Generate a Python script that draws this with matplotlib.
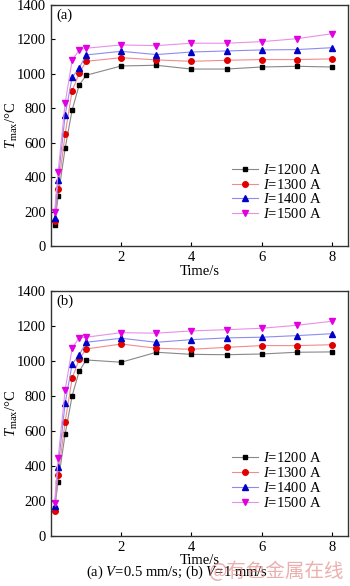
import matplotlib
matplotlib.use("Agg")
import matplotlib.pyplot as plt

plt.rcParams["font.family"] = ["Liberation Serif", "DejaVu Serif"]
plt.rcParams["mathtext.fontset"] = "custom"
plt.rcParams["mathtext.rm"] = "Liberation Serif"
plt.rcParams["mathtext.it"] = "Liberation Serif:italic"
plt.rcParams["font.size"] = 10.5

# time points (s)
time = [0.1, 0.2, 0.4, 0.6, 0.8, 1.0, 2, 3, 4, 5, 6, 7, 8]

# (a) V = 0.5 mm/s
a_1200 = [124, 289, 568, 790, 935, 992, 1046, 1050, 1028, 1028, 1040, 1044, 1040]
a_1300 = [145, 333, 651, 902, 1003, 1073, 1094, 1081, 1073, 1079, 1083, 1083, 1087]
a_1400 = [165, 383, 761, 980, 1034, 1110, 1131, 1112, 1127, 1133, 1139, 1141, 1152]
a_1500 = [199, 432, 829, 1079, 1139, 1149, 1168, 1164, 1178, 1178, 1187, 1204, 1233]

# (b) V = 1 mm/s
b_1200 = [160, 309, 582, 801, 941, 1006, 993, 1050, 1038, 1036, 1040, 1050, 1052]
b_1300 = [145, 347, 653, 901, 1010, 1069, 1097, 1073, 1067, 1078, 1088, 1088, 1093]
b_1400 = [170, 395, 758, 983, 1034, 1107, 1130, 1107, 1122, 1132, 1136, 1145, 1156]
b_1500 = [190, 443, 834, 1073, 1133, 1136, 1162, 1159, 1172, 1179, 1187, 1204, 1227]

labels = ["1200", "1300", "1400", "1500"]

styles = [
    dict(marker="s", color="#888888", mfc="#000000", mec="#000000", ms=3.5),
    dict(marker="o", color="#f08c8c", mfc="#e00000", mec="#e00000", ms=4),
    dict(marker="^", color="#8c8cf0", mfc="#0000c8", mec="#0000c8", ms=4.5),
    dict(marker="v", color="#e890e8", mfc="#e000e0", mec="#e000e0", ms=4.5),
]

fig = plt.figure(figsize=(3.5, 5.86), dpi=100)
ax_a = fig.add_axes([0.146, 0.580, 0.848, 0.4115])
ax_b = fig.add_axes([0.146, 0.0853, 0.848, 0.4181])

panels = [
    (ax_a, "(a)", [a_1200, a_1300, a_1400, a_1500]),
    (ax_b, "(b)", [b_1200, b_1300, b_1400, b_1500]),
]

for ax, tag, series in panels:
    for vals, lab, st in zip(series, labels, styles):
        ax.plot(time, vals, lw=0.8, label=rf"$I$=" + lab + " A", **st)
    ax.set_xlim(0, 8.46)
    ax.set_ylim(0, 1400)
    ax.set_xticks([2, 4, 6, 8])
    ax.set_yticks(range(0, 1401, 200))
    ax.tick_params(direction="in", length=3, width=0.8, labelsize=10.5)
    for sp in ax.spines.values():
        sp.set_linewidth(1.0)
        sp.set_color("#333333")
    ax.set_xlabel("Time/s", labelpad=1)
    ax.set_ylabel(r"$T_{\rm max}$/°C")
    ax.yaxis.set_label_coords(-0.105, 0.5)
    ax.text(0.018, 0.958, tag, transform=ax.transAxes, ha="left", va="center")
    ax.legend(
        loc="upper left",
        bbox_to_anchor=(0.61, 0.345),
        frameon=False,
        borderpad=0,
        borderaxespad=0,
        handlelength=1.8,
        handletextpad=0.3,
        labelspacing=0.05,
        fontsize=10.5,
    )

ax_b.xaxis.labelpad = 0

fig.text(0.505, 0.024, r"(a) $V$=0.5 mm/s; (b) $V$=1 mm/s", ha="center", va="center")
fig.text(0.79, 0.024, "@有色金属在线", ha="center", va="center", fontsize=14,
         color="#e07a7a", alpha=0.6, family=["Noto Sans CJK SC", "DejaVu Sans"])

fig.savefig("out.png", dpi=100)
